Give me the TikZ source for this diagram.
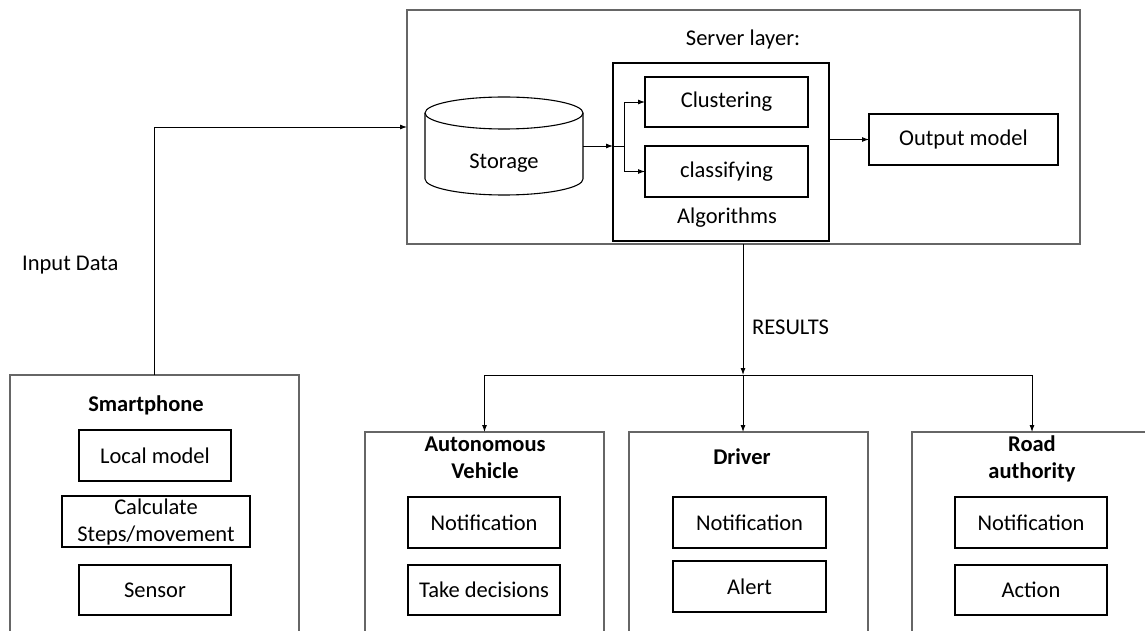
\documentclass[tikz,border=0pt]{standalone}
\usepackage{fontspec}
\setmainfont{Carlito}
\usepackage{tikz}
\usetikzlibrary{arrows.meta}

\begin{document}
\begin{tikzpicture}[x=1pt,y=-1pt]
  \tikzset{PanelStyle/.style = {
    shape         = rectangle,
    draw          = black!60,
    line width    = 1.2pt,
    inner sep     = 0pt,
    outer sep     = 0pt
    }
  }
  \tikzset{BoxStyle/.style = {
    shape         = rectangle,
    draw          = black,
    line width    = 1.1pt,
    text          = black,
    align         = center,
    inner sep     = 0pt,
    outer sep     = 0pt
    }
  }
  \tikzset{TitleStyle/.style = {
    font          = \bfseries,
    align         = center,
    inner sep     = 0pt
    }
  }
  \tikzset{ArrowStyle/.style = {
    draw          = black,
    line width    = 0.9pt,
    -{Latex[length=7pt,width=5pt]}
    }
  }
  \fontsize{22.5}{27}\selectfont
  \useasboundingbox (0,0) rectangle (1145,631);
  \clip (0,0) rectangle (1145,631);

  % server layer
	\node[PanelStyle, minimum width=673, minimum height=234](Server) at (743.5, 127) {};
	\node[inner sep=0pt](ServerTitle) at (743, 40) {Server layer:};
	\node[shape=rectangle, minimum width=158, minimum height=98, inner sep=0pt, outer sep=0pt](Storage) at (504, 146) {};
	\draw[line width=1.1pt] (Storage.north) ++(0,16) ellipse [x radius=79, y radius=16];
	\draw[line width=1.1pt] (Storage.north west) ++(0,16) -- ++(0,66)
	      arc [start angle=180, end angle=0, x radius=79, y radius=16] -- ++(0,-66);
	\node[inner sep=0pt](StorageText) at (504, 163) {Storage};
	\node[BoxStyle, minimum width=216, minimum height=178](Algo) at (721, 152) {};
	\node[BoxStyle, minimum width=163, minimum height=50](Clust) at (726.5, 102) {Clustering};
	\node[BoxStyle, minimum width=163, minimum height=51](Class) at (726.5, 171.5) {classifying};
	\node[inner sep=0pt](AlgoTitle) at (727, 218) {Algorithms};
	\node[BoxStyle, minimum width=189, minimum height=51](Output) at (963.5, 139.5) {Output model};

  % smartphone
	\node[PanelStyle, minimum width=289, minimum height=265](Phone) at (154.5, 507.5) {};
	\node[TitleStyle](PhoneTitle) at (146, 405) {Smartphone};
	\node[BoxStyle, minimum width=152, minimum height=51](Local) at (155, 455.5) {Local model};
	\node[BoxStyle, minimum width=188, minimum height=51](Calc) at (156, 521.5) {Calculate\\Steps/movement};
	\node[BoxStyle, minimum width=152, minimum height=50](Sensor) at (155, 590) {Sensor};
	\node[anchor=west, inner sep=0pt](InputLabel) at (22, 265) {Input Data};

  % receivers
	\node[PanelStyle, minimum width=239, minimum height=208](Auto) at (484.5, 536) {};
	\node[TitleStyle](AutoTitle) at (485, 458) {Autonomous\\Vehicle};
	\node[BoxStyle, minimum width=152, minimum height=51](AutoNote) at (484, 522.5) {Notification};
	\node[BoxStyle, minimum width=152, minimum height=50](AutoDec) at (484, 590) {Take decisions};

	\node[PanelStyle, minimum width=239, minimum height=208](Driver) at (748.5, 536) {};
	\node[TitleStyle](DriverTitle) at (742, 457) {Driver};
	\node[BoxStyle, minimum width=153, minimum height=51](DrvNote) at (749.5, 522.5) {Notification};
	\node[BoxStyle, minimum width=153, minimum height=51](DrvAlert) at (749.5, 586.5) {Alert};

	\node[PanelStyle, minimum width=240, minimum height=208](Road) at (1032, 536) {};
	\node[TitleStyle](RoadTitle) at (1032, 459) {Road\\authority};
	\node[BoxStyle, minimum width=152, minimum height=51](RoadNote) at (1031, 522.5) {Notification};
	\node[BoxStyle, minimum width=152, minimum height=50](RoadAction) at (1031, 590) {Action};

  % connectors
	\coordinate (Split) at (624, 146);
	\coordinate (Bus) at (743, 375);
	\draw[ArrowStyle](Phone.north) |- (Server.west);
	\draw[ArrowStyle](Storage.east) -- (Storage.east -| Algo.west);
	\draw[line width=0.9pt](Storage.east -| Algo.west) -- (Split);
	\draw[ArrowStyle](Split) |- (Clust.west);
	\draw[ArrowStyle](Split) |- (Class.west);
	\draw[ArrowStyle](Algo.east |- Output.west) -- (Output.west);
	\draw[ArrowStyle](Server.south -| Bus) -- (Bus);
	\node[anchor=west, inner sep=0pt](ResultsLabel) at (752, 327) {RESULTS};
	\draw[line width=0.9pt](Auto.north |- Bus) -- (Road.north |- Bus);
	\draw[ArrowStyle](Auto.north |- Bus) -- (Auto.north);
	\draw[ArrowStyle](Bus) -- (Bus |- Driver.north);
	\draw[ArrowStyle](Road.north |- Bus) -- (Road.north);

  \end{tikzpicture}
\end{document}
